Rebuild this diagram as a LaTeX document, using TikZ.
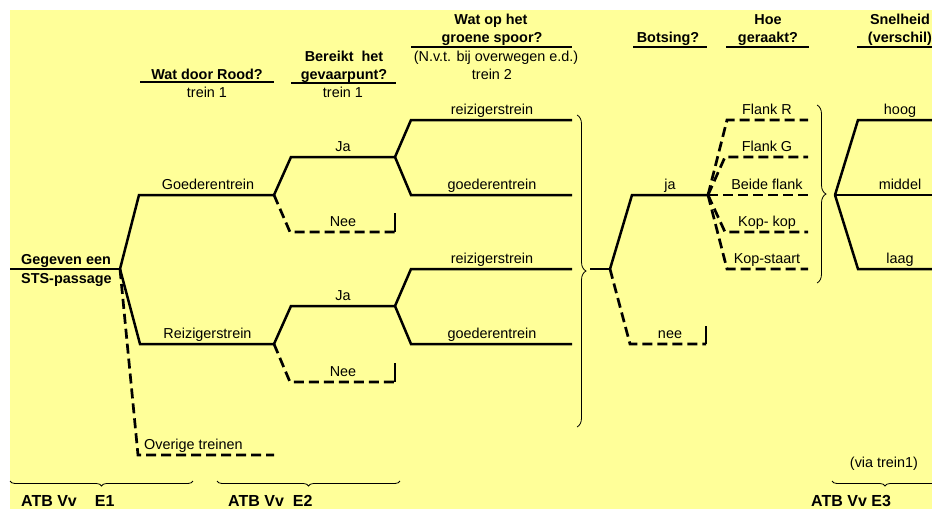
\documentclass[tikz,border=0pt]{standalone}
\usepackage{fontspec}
\setmainfont{Liberation Sans}
\usetikzlibrary{decorations.pathreplacing}
\definecolor{bgyellow}{HTML}{FFFF99}
\begin{document}
\begin{tikzpicture}[x=1pt,y=-1pt,
  lbl/.style={anchor=base,inner sep=0pt,font=\fontsize{14.4}{17}\selectfont},
  lblw/.style={anchor=base west,inner sep=0pt,font=\fontsize{14.4}{17}\selectfont},
  hdr/.style={anchor=base,inner sep=0pt,font=\fontsize{14.4}{17}\selectfont\bfseries},
  hdrw/.style={anchor=base west,inner sep=0pt,font=\fontsize{14.4}{17}\selectfont\bfseries},
  foot/.style={anchor=base west,inner sep=0pt,font=\fontsize{16}{19}\selectfont\bfseries},
  solidln/.style={line width=2.5pt,line join=miter},
  dashln/.style={line width=2.7pt,dash pattern=on 10pt off 5pt},
  uline/.style={line width=2.3pt},
  bracevert/.style={decorate,decoration={brace,amplitude=9pt},line width=0.8pt},
  bracehor/.style={decorate,decoration={brace,mirror,amplitude=5pt},line width=0.8pt},
]
\useasboundingbox (0,0) rectangle (932,509);
\fill[white] (0,0) rectangle (932,509);
\fill[bgyellow] (10,10) rectangle (932,509);

% ---------- headers ----------
\node[hdr] (h1) at (207,79) {Wat door Rood?};
\node[lbl] (h1s) at (207,97) {trein 1};
\draw[uline] (140,82) coordinate (u1a) -- (274,82) coordinate (u1b);

\node[hdr] (h2a) at (344,61) {Bereikt\ \ het};
\node[hdr] (h2b) at (344,79) {gevaarpunt?};
\node[lbl] (h2s) at (343,97) {trein 1};
\draw[uline] (291,83) coordinate (u2a) -- (396,83) coordinate (u2b);

\node[hdr] (h3a) at (491,24) {Wat op het};
\node[hdr] (h3b) at (492,42) {groene spoor?};
\node[lbl] (h3n) at (496,61) {(N.v.t. bij overwegen e.d.)};
\node[lbl] (h3s) at (492,79) {trein 2};
\draw[uline] (411,47) coordinate (u3a) -- (572,47) coordinate (u3b);

\node[hdr] (h4) at (668,42) {Botsing?};
\draw[uline] (633,47) coordinate (u4a) -- (707,47) coordinate (u4b);

\node[hdr] (h5a) at (768,24) {Hoe};
\node[hdr] (h5b) at (768,42) {geraakt?};
\draw[uline] (726,47) coordinate (u5a) -- (809,47) coordinate (u5b);

\node[hdr] (h6a) at (900,24) {Snelheid};
\node[hdr] (h6b) at (900,42) {(verschil)};
\draw[uline] (857,47) coordinate (u6a) -- (940,47) coordinate (u6b);

% ---------- coordinates ----------
\coordinate (root0) at (10,269);
\coordinate (root) at (120,269);
\coordinate (gbend) at (139,195); \coordinate (gend) at (274,195);
\coordinate (rbend) at (140,344); \coordinate (rend) at (274,344);
\coordinate (obend) at (138,455); \coordinate (oend) at (274,455);

\coordinate (gjbend) at (291,157); \coordinate (gjend) at (395,157);
\coordinate (gnbend) at (290,232); \coordinate (gnend) at (395,232); \coordinate (gntick) at (395,213);
\coordinate (g2rbend) at (411,120); \coordinate (g2rend) at (572,120);
\coordinate (g2gbend) at (411,195); \coordinate (g2gend) at (572,195);

\coordinate (rjbend) at (291,306); \coordinate (rjend) at (395,306);
\coordinate (rnbend) at (290,382); \coordinate (rnend) at (395,382); \coordinate (rntick) at (395,363);
\coordinate (r2rbend) at (411,269); \coordinate (r2rend) at (572,269);
\coordinate (r2gbend) at (411,344); \coordinate (r2gend) at (572,344);

\coordinate (br1a) at (577,115); \coordinate (br1b) at (577,427);
\coordinate (b1) at (590,269); \coordinate (bots) at (610,269);
\coordinate (jabend) at (632,195); \coordinate (jaend) at (708,195);
\coordinate (neebend) at (630,344); \coordinate (neeend) at (706,344); \coordinate (neetick) at (706,326);

\coordinate (frbend) at (727,120); \coordinate (frend) at (808,120);
\coordinate (fgbend) at (725,157); \coordinate (fgend) at (808,157);
\coordinate (bfend) at (808,195);
\coordinate (kkbend) at (725,232); \coordinate (kkend) at (808,232);
\coordinate (ksbend) at (727,269); \coordinate (ksend) at (808,269);

\coordinate (br2a) at (817,105); \coordinate (br2b) at (817,283);
\coordinate (snel) at (835,195);
\coordinate (hbend) at (858,120); \coordinate (hend) at (940,120);
\coordinate (mend) at (940,195);
\coordinate (lbend) at (858,269); \coordinate (lend) at (940,269);

% ---------- tree ----------
\draw[solidln] (root0) -- (root);
\draw[solidln] (root) -- (gbend) -- (gend);
\draw[solidln] (root) -- (rbend) -- (rend);
\draw[dashln] (root) -- (obend) -- (oend);

\draw[solidln] (gend) -- (gjbend) -- (gjend);
\draw[dashln] (gend) -- (gnbend) -- (gnend);
\draw[solidln] (gnend) -- (gntick);
\draw[solidln] (gjend) -- (g2rbend) -- (g2rend);
\draw[solidln] (gjend) -- (g2gbend) -- (g2gend);

\draw[solidln] (rend) -- (rjbend) -- (rjend);
\draw[dashln] (rend) -- (rnbend) -- (rnend);
\draw[solidln] (rnend) -- (rntick);
\draw[solidln] (rjend) -- (r2rbend) -- (r2rend);
\draw[solidln] (rjend) -- (r2gbend) -- (r2gend);

\draw[bracevert] (br1a) -- (br1b);
\draw[solidln] (b1) -- (bots);
\draw[solidln] (bots) -- (jabend) -- (jaend);
\draw[dashln] (bots) -- (neebend) -- (neeend);
\draw[solidln] (neeend) -- (neetick);

\draw[dashln] (jaend) -- (frbend) -- (frend);
\draw[dashln] (jaend) -- (fgbend) -- (fgend);
\draw[dashln] (jaend) -- (bfend);
\draw[dashln] (jaend) -- (kkbend) -- (kkend);
\draw[dashln] (jaend) -- (ksbend) -- (ksend);

\draw[bracevert] (br2a) -- (br2b);
\draw[solidln] (snel) -- (hbend) -- (hend);
\draw[solidln] (snel) -- (mend);
\draw[solidln] (snel) -- (lbend) -- (lend);

% ---------- labels ----------
\node[hdrw] (rt1) at (21,264) {Gegeven een};
\node[hdrw] (rt2) at (21,283) {STS-passage};
\node[lbl] (lg) at (208,189) {Goederentrein};
\node[lbl] (lr) at (207.5,338) {Reizigerstrein};
\node[lblw] (lo) at (144,449) {Overige treinen};

\node[lbl] (lgj) at (343,151) {Ja};
\node[lbl] (lgn) at (343,226) {Nee};
\node[lbl] (lrj) at (343,300) {Ja};
\node[lbl] (lrn) at (343,376) {Nee};

\node[lbl] (l1) at (492,114) {reizigerstrein};
\node[lbl] (l2) at (492,189) {goederentrein};
\node[lbl] (l3) at (492,263) {reizigerstrein};
\node[lbl] (l4) at (492,338) {goederentrein};

\node[lbl] (lja) at (670,189) {ja};
\node[lbl] (lnee) at (670,338) {nee};

\node[lbl] (lfr) at (767,114) {Flank R};
\node[lbl] (lfg) at (767,151) {Flank G};
\node[lbl] (lbf) at (767,189) {Beide flank};
\node[lbl] (lkk) at (767,226) {Kop- kop};
\node[lbl] (lks) at (767,263) {Kop-staart};

\node[lbl] (lh) at (900,114) {hoog};
\node[lbl] (lm) at (900,189) {middel};
\node[lbl] (ll) at (900,263) {laag};

% ---------- bottom braces ----------
\draw[bracehor] (10,481) coordinate (e1a) -- (193,481) coordinate (e1b);
\draw[bracehor] (217,481) coordinate (e2a) -- (400,481) coordinate (e2b);
\draw[bracehor] (832,481) coordinate (e3a) -- (938,481) coordinate (e3b);
\node[foot] (f1) at (21,506) {ATB Vv\hspace*{18pt}E1};
\node[foot] (f2) at (228,506) {ATB Vv\hspace*{9pt}E2};
\node[foot] (f3) at (811,506) {ATB Vv E3};
\node[lbl] (via) at (884,467) {(via trein1)};
\end{tikzpicture}
\end{document}
